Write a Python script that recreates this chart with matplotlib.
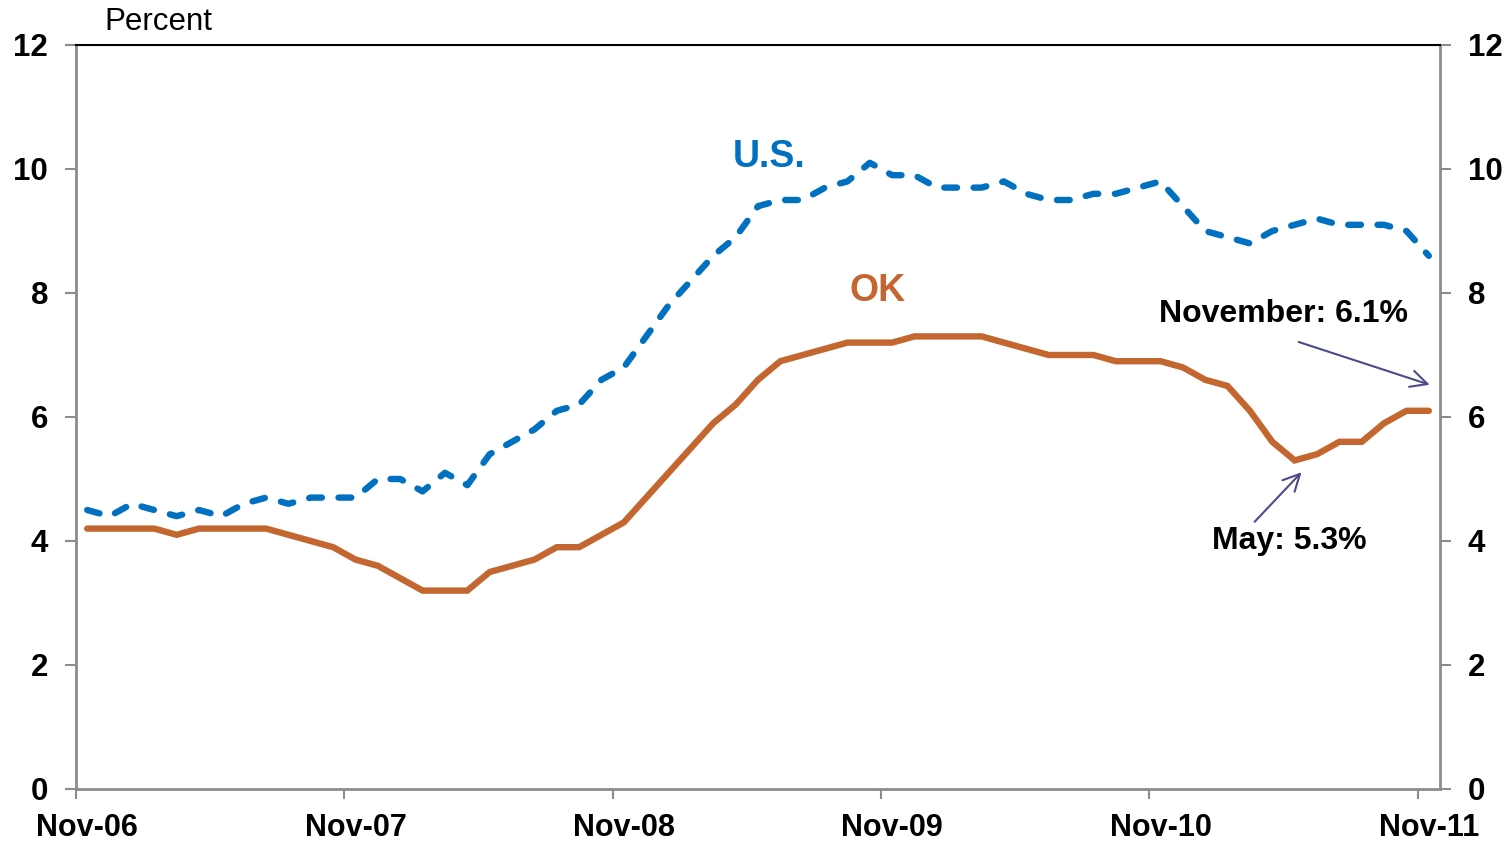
import matplotlib
matplotlib.use("Agg")
import matplotlib.pyplot as plt
import numpy as np

plt.rcParams['font.family'] = ['Liberation Sans', 'DejaVu Sans']

# Monthly data, Nov-2006 .. Nov-2011 (61 months)
us_rate = [4.5, 4.4, 4.6, 4.5, 4.4, 4.5, 4.4, 4.6, 4.7, 4.6, 4.7, 4.7,
           4.7, 5.0, 5.0, 4.8, 5.1, 4.9, 5.4, 5.6, 5.8, 6.1, 6.2, 6.6,
           6.8, 7.3, 7.8, 8.2, 8.6, 8.9, 9.4, 9.5, 9.5, 9.7, 9.8, 10.1,
           9.9, 9.9, 9.7, 9.7, 9.7, 9.8, 9.6, 9.5, 9.5, 9.6, 9.6, 9.7,
           9.8, 9.4, 9.0, 8.9, 8.8, 9.0, 9.1, 9.2, 9.1, 9.1, 9.1, 9.0,
           8.6]
ok_rate = [4.2, 4.2, 4.2, 4.2, 4.1, 4.2, 4.2, 4.2, 4.2, 4.1, 4.0, 3.9,
           3.7, 3.6, 3.4, 3.2, 3.2, 3.2, 3.5, 3.6, 3.7, 3.9, 3.9, 4.1,
           4.3, 4.7, 5.1, 5.5, 5.9, 6.2, 6.6, 6.9, 7.0, 7.1, 7.2, 7.2,
           7.2, 7.3, 7.3, 7.3, 7.3, 7.2, 7.1, 7.0, 7.0, 7.0, 6.9, 6.9,
           6.9, 6.8, 6.6, 6.5, 6.1, 5.6, 5.3, 5.4, 5.6, 5.6, 5.9, 6.1,
           6.1]
x_labels = ["Nov-06", "Nov-07", "Nov-08", "Nov-09", "Nov-10", "Nov-11"]
y_ticks = [0, 2, 4, 6, 8, 10, 12]

BLUE = "#0070C0"
ORANGE = "#C4662F"
GRAY = "#8C8C8C"
ARROW = "#4B4B8C"

fig = plt.figure(figsize=(15.1, 8.42), dpi=100)
ax = fig.add_axes([76 / 1510, 1 - 789 / 842, (1440 - 76) / 1510, (789 - 45) / 842])

x = np.arange(len(ok_rate))
ax.plot(x, ok_rate, color=ORANGE, lw=4.6, solid_capstyle='round',
        solid_joinstyle='miter', zorder=3)
ax.plot(x, us_rate, color=BLUE, lw=4.6, dashes=(2.0, 2.6),
        dash_capstyle='round', zorder=3)

ax.set_xlim(-0.5, 60.5)
ax.set_ylim(0, 12)

# x axis: labels at Nov points, tick marks at month boundaries
ax.set_xticks([12 * k for k in range(len(x_labels))])
ax.set_xticklabels(x_labels, fontsize=22, fontweight='bold')
ax.set_xticks([12 * k - 0.5 for k in range(len(x_labels))], minor=True)
ax.tick_params(axis='x', which='major', length=0, pad=17)
ax.tick_params(axis='x', which='minor', length=7, width=1.5, color=GRAY,
               direction='out')

ax.set_yticks(y_ticks)
ax.set_yticklabels([str(v) for v in y_ticks], fontsize=22.5, fontweight='bold')
ax.tick_params(axis='y', which='major', length=8, width=1.5, color=GRAY,
               direction='out', left=True, right=True,
               labelleft=True, labelright=True, pad=12)

for side in ['left', 'right', 'bottom']:
    ax.spines[side].set_color(GRAY)
    ax.spines[side].set_linewidth(2)
ax.spines['top'].set_color('black')
ax.spines['top'].set_linewidth(1.5)

fig.text(104 / 1510, 1 - 22 / 842, "Percent", fontsize=22.5, ha='left',
         va='center')

ax.text(30.49, 10.19, "U.S.", color=BLUE, fontsize=27, fontweight='bold',
        ha='center', va='center')
ax.text(35.36, 8.03, "OK", color=ORANGE, fontsize=27, fontweight='bold',
        ha='center', va='center')

ax.annotate("", xy=(60.04, 6.52), xytext=(54.18, 7.21),
            arrowprops=dict(arrowstyle='->', color=ARROW, lw=1.5,
                            mutation_scale=30, shrinkA=0, shrinkB=0))
ax.text(53.51, 7.66, "November: 6.1%", fontsize=23, fontweight='bold',
        ha='center', va='center')

ax.annotate("", xy=(54.31, 5.11), xytext=(52.21, 4.31),
            arrowprops=dict(arrowstyle='->', color=ARROW, lw=1.5,
                            mutation_scale=30, shrinkA=0, shrinkB=0))
ax.text(53.78, 4.0, "May: 5.3%", fontsize=23, fontweight='bold',
        ha='center', va='center')

fig.savefig("out.png", dpi=100)
